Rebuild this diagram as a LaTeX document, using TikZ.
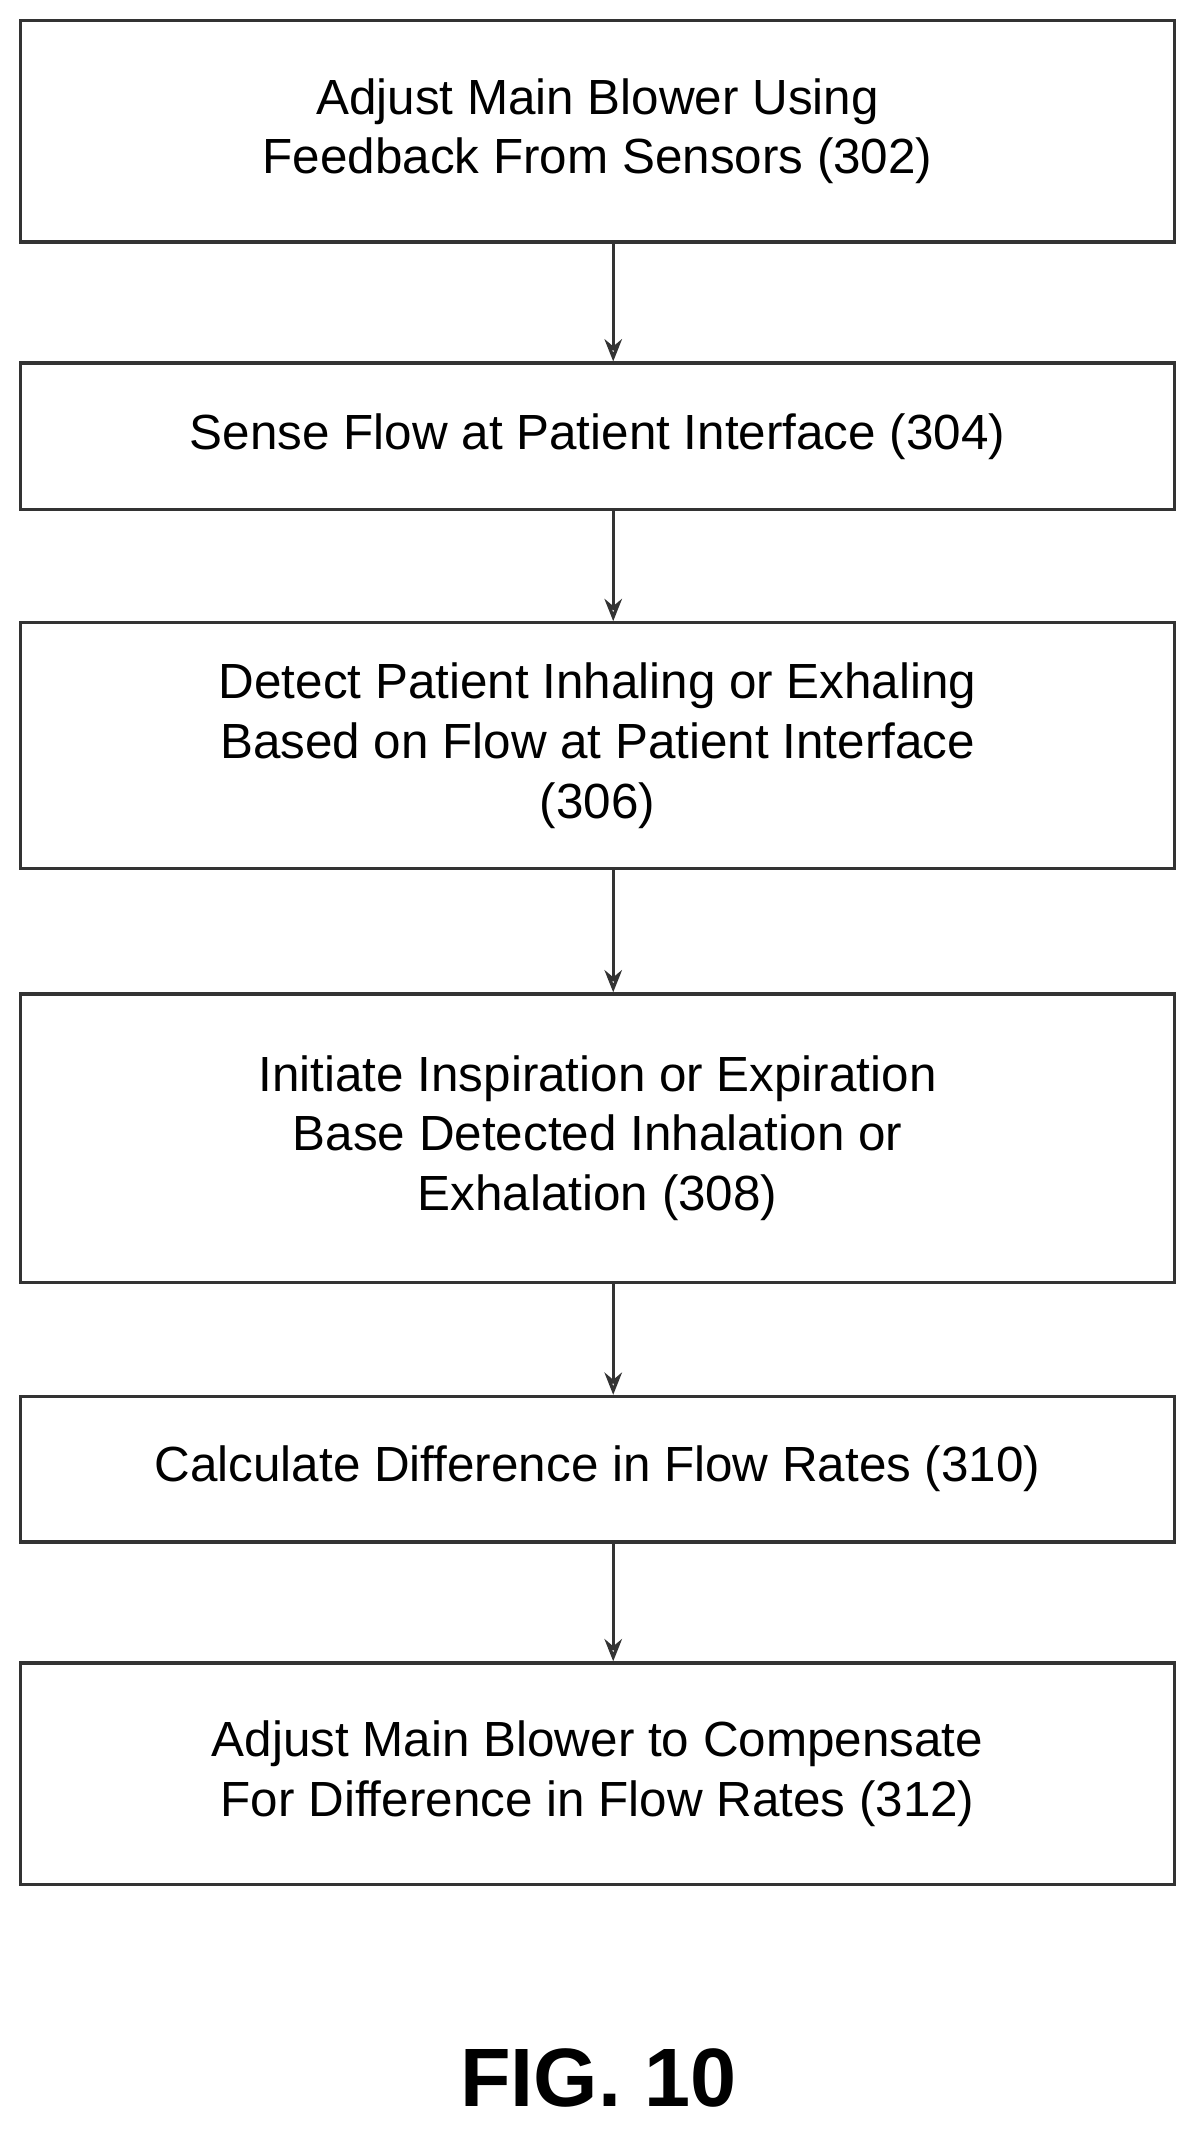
\documentclass[tikz,border=0pt]{standalone}
\usepackage{fontspec}
\setmainfont{Liberation Sans}
\usetikzlibrary{arrows.meta}
\begin{document}
\begin{tikzpicture}[x=0.03cm,y=-0.03cm,
  box/.style={draw=black!80,line width=2pt,minimum width=849*0.03cm,inner sep=0pt,align=center,font=\fontsize{31}{37.5}\selectfont},
  arr/.style={draw=black!80,line width=2pt,-{Stealth[length=14pt,width=11pt,open]}}]
\useasboundingbox (0,0) rectangle (880,1568);
\node[box,minimum height=163*0.03cm] (b1) at (439.5,96.5) {Adjust Main Blower Using\\Feedback From Sensors (302)};
\node[box,minimum height=108*0.03cm] (b2) at (439.5,321) {Sense Flow at Patient Interface (304)};
\node[box,minimum height=181*0.03cm] (b3) at (439.5,548.5) {Detect Patient Inhaling or Exhaling\\Based on Flow at Patient Interface\\(306)};
\node[box,minimum height=212*0.03cm] (b4) at (439.5,837) {Initiate Inspiration or Expiration\\Base Detected Inhalation or\\Exhalation (308)};
\node[box,minimum height=107*0.03cm] (b5) at (439.5,1080.5) {Calculate Difference in Flow Rates (310)};
\node[box,minimum height=163*0.03cm] (b6) at (439.5,1304.5) {Adjust Main Blower to Compensate\\For Difference in Flow Rates (312)};
\node[font=\fontsize{52}{56}\selectfont\bfseries] (fig) at (440,1528) {FIG. 10};
\foreach \a/\b in {b1/b2,b2/b3,b3/b4,b4/b5,b5/b6}
  \draw[arr] (\a.south -| 451,0) -- (\b.north -| 451,0);
\end{tikzpicture}
\end{document}
